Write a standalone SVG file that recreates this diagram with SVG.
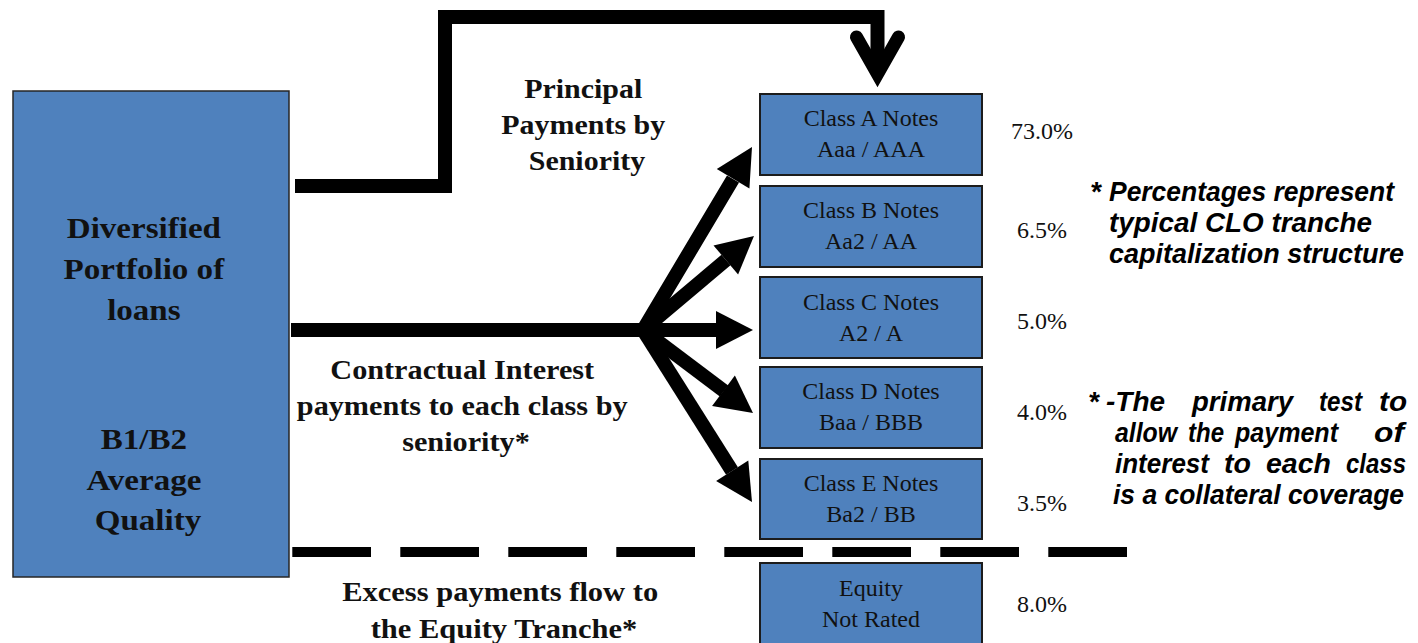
<svg xmlns="http://www.w3.org/2000/svg" width="1418" height="643" viewBox="0 0 1418 643">
  <style>
    .box { fill: #4f81bd; stroke: #1c1c1c; stroke-width: 2; }
    .pool { fill: #4f81bd; stroke: #262626; stroke-width: 1.5; }
    .flow { fill: none; stroke: #000; stroke-width: 14; stroke-linejoin: miter; stroke-miterlimit: 6; }
    .head { fill: #000; }
    .lbl { font-family: "Liberation Serif", "Times New Roman", serif; font-weight: bold; font-size: 28px; fill: #111; }
    .pool-t { font-family: "Liberation Serif", "Times New Roman", serif; font-weight: bold; font-size: 29px; fill: #111; }
    .note-t { font-family: "Liberation Serif", "Times New Roman", serif; font-size: 24px; fill: #111; }
    .pct { font-family: "Liberation Serif", "Times New Roman", serif; font-size: 24px; fill: #111; text-anchor: middle; }
    .memo { font-family: "Liberation Sans Narrow", "Liberation Sans", Arial, sans-serif; font-weight: bold; font-style: italic; font-size: 28px; fill: #000; }
  </style>

  <!-- collateral pool -->
  <g id="portfolio">
    <rect class="pool" x="13" y="91" width="276" height="486"/>
    <text class="pool-t" text-anchor="middle" transform="translate(148 0) scale(1.14 1)">
      <tspan x="0" y="238">Diversified</tspan>
      <tspan x="0" y="279">Portfolio of</tspan>
      <tspan x="0" y="320">loans</tspan>
      <tspan x="0" y="449">B1/B2</tspan>
      <tspan x="0" y="490">Average</tspan>
      <tspan x="0" y="530">Quality</tspan>
    </text>
  </g>

  <!-- tranches -->
  <g id="class-a">
    <rect class="box" x="760" y="94" width="222" height="81"/>
    <text class="note-t" text-anchor="middle"><tspan x="871" y="126">Class A Notes</tspan><tspan x="871" y="157">Aaa / AAA</tspan></text>
  </g>
  <g id="class-b">
    <rect class="box" x="760" y="186" width="222" height="81"/>
    <text class="note-t" text-anchor="middle"><tspan x="871" y="218">Class B Notes</tspan><tspan x="871" y="249">Aa2 / AA</tspan></text>
  </g>
  <g id="class-c">
    <rect class="box" x="760" y="277" width="222" height="81"/>
    <text class="note-t" text-anchor="middle"><tspan x="871" y="310">Class C Notes</tspan><tspan x="871" y="341">A2 / A</tspan></text>
  </g>
  <g id="class-d">
    <rect class="box" x="760" y="367" width="222" height="81"/>
    <text class="note-t" text-anchor="middle"><tspan x="871" y="399">Class D Notes</tspan><tspan x="871" y="430">Baa / BBB</tspan></text>
  </g>
  <g id="class-e">
    <rect class="box" x="760" y="459" width="222" height="80"/>
    <text class="note-t" text-anchor="middle"><tspan x="871" y="491">Class E Notes</tspan><tspan x="871" y="522">Ba2 / BB</tspan></text>
  </g>
  <g id="equity">
    <rect class="box" x="760" y="563" width="222" height="84"/>
    <text class="note-t" text-anchor="middle"><tspan x="871" y="596">Equity</tspan><tspan x="871" y="627">Not Rated</tspan></text>
  </g>

  <!-- capitalization percentages -->
  <g id="percentages">
    <text class="pct" x="1042" y="139">73.0%</text>
    <text class="pct" x="1042" y="238">6.5%</text>
    <text class="pct" x="1042" y="329">5.0%</text>
    <text class="pct" x="1042" y="420">4.0%</text>
    <text class="pct" x="1042" y="511">3.5%</text>
    <text class="pct" x="1042" y="612">8.0%</text>
  </g>

  <!-- connectors -->
  <g id="connectors">
    <!-- principal waterfall to the senior class -->
    <path class="flow" d="M 295 186 H 445 V 17 H 877.5 V 72"/>
    <polyline points="856.5,37 877.5,74 898.5,37" fill="none" stroke="#000" stroke-width="13" stroke-linecap="round" stroke-linejoin="miter" stroke-miterlimit="10"/>

    <!-- interest fan-out -->
    <path class="flow" d="M 291 330 H 643 L 733 179"/>
    <path class="flow" d="M 643 330 L 726 260"/>
    <path class="flow" d="M 640 330 H 717"/>
    <path class="flow" d="M 643 330 L 724 391"/>
    <path class="flow" d="M 643 330 L 732 471"/>
    <polygon class="head" points="752,147 749.4,188.5 716.8,169.1"/>
    <polygon class="head" points="754,236 738.1,274.4 713.5,245.4"/>
    <polygon class="head" points="753,330 716,349 716,311"/>
    <polygon class="head" points="753,413 712.1,405.9 734.9,375.5"/>
    <polygon class="head" points="752,502 716.1,480.9 748.3,460.5"/>

    <!-- equity cut-off -->
    <line x1="292.3" y1="552" x2="1127" y2="552" stroke="#000" stroke-width="10" stroke-dasharray="78.7 29.3"/>
  </g>

  <!-- flow labels -->
  <g id="label-principal">
    <text class="lbl" text-anchor="middle" transform="translate(587 0) scale(1.07 1)">
      <tspan x="0" y="98">Principal</tspan>
      <tspan x="0" y="134">Payments by</tspan>
      <tspan x="0" y="170">Seniority</tspan>
    </text>
  </g>
  <g id="label-interest">
    <text class="lbl" text-anchor="middle" transform="translate(466 0) scale(1.08 1)">
      <tspan x="0" y="379">Contractual Interest</tspan>
      <tspan x="0" y="415">payments to each class by</tspan>
      <tspan x="0" y="451">seniority*</tspan>
    </text>
  </g>
  <g id="label-excess">
    <text class="lbl" text-anchor="middle" transform="translate(504 0) scale(1.09 1)">
      <tspan x="0" y="601">Excess payments flow to</tspan>
      <tspan x="0" y="638">the Equity Tranche*</tspan>
    </text>
  </g>

  <!-- side notes -->
  <g id="note-percentages" class="memo">
    <text x="1090" y="201">*</text>
    <text x="1109" y="201" textLength="285" lengthAdjust="spacingAndGlyphs">Percentages represent</text>
    <text x="1109" y="232" textLength="263" lengthAdjust="spacingAndGlyphs">typical CLO tranche</text>
    <text x="1109" y="263" textLength="295" lengthAdjust="spacingAndGlyphs">capitalization structure</text>
  </g>
  <g id="note-coverage" class="memo">
    <text x="1088" y="411">*</text>
    <text x="1106" y="411" textLength="59" lengthAdjust="spacingAndGlyphs">-The</text>
    <text x="1192" y="411" textLength="101" lengthAdjust="spacingAndGlyphs">primary</text>
    <text x="1319" y="411" textLength="43" lengthAdjust="spacingAndGlyphs">test</text>
    <text x="1379" y="411" textLength="28" lengthAdjust="spacingAndGlyphs">to</text>
    <text x="1115" y="442" textLength="62" lengthAdjust="spacingAndGlyphs">allow</text>
    <text x="1188" y="442" textLength="36" lengthAdjust="spacingAndGlyphs">the</text>
    <text x="1235" y="442" textLength="103" lengthAdjust="spacingAndGlyphs">payment</text>
    <text x="1374" y="442" textLength="30" lengthAdjust="spacingAndGlyphs">of</text>
    <text x="1115" y="473" textLength="94" lengthAdjust="spacingAndGlyphs">interest</text>
    <text x="1224" y="473" textLength="27" lengthAdjust="spacingAndGlyphs">to</text>
    <text x="1266" y="473" textLength="65" lengthAdjust="spacingAndGlyphs">each</text>
    <text x="1346" y="473" textLength="60" lengthAdjust="spacingAndGlyphs">class</text>
    <text x="1113" y="504" font-size="27" textLength="291" lengthAdjust="spacingAndGlyphs">is a collateral coverage</text>
  </g>
</svg>
